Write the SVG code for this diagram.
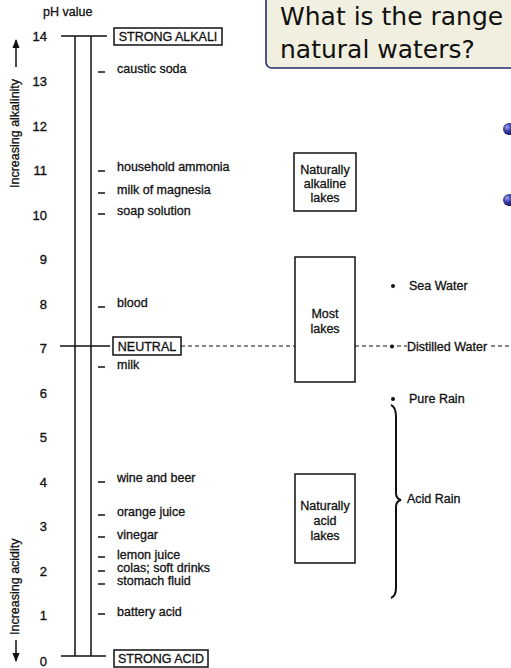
<svg xmlns="http://www.w3.org/2000/svg" width="511" height="668" viewBox="0 0 511 668">
<defs>
<radialGradient id="ball" cx="0.35" cy="0.35" r="0.7">
<stop offset="0" stop-color="#a4a9ee"/>
<stop offset="0.45" stop-color="#3a3fa8"/>
<stop offset="1" stop-color="#14165a"/>
</radialGradient>
<marker id="ah" viewBox="0 0 10 10" refX="9" refY="5" markerWidth="6" markerHeight="6" orient="auto">
<path d="M0,1 L10,5 L0,9 z" fill="#111"/>
</marker>
<style>
.t{font-family:"Liberation Sans",Arial,sans-serif;fill:#111;stroke:#111;stroke-width:0.3px;font-size:12.5px}
.n{font-family:"Liberation Sans",Arial,sans-serif;fill:#111;stroke:#111;stroke-width:0.35px;font-size:13px;text-anchor:end}
.b{font-family:"Liberation Sans",Arial,sans-serif;fill:#111;stroke:#111;stroke-width:0.3px;font-size:12.5px;text-anchor:middle}
.box{fill:none;stroke:#111;stroke-width:1.5}
.ln{stroke:#111;stroke-width:1.5;fill:none}
.tk{stroke:#111;stroke-width:1.5}
.dash{stroke:#111;stroke-width:1.2;stroke-dasharray:4 3;fill:none}
.title{font-family:"DejaVu Sans",sans-serif;fill:#111;font-size:25px}
</style>
</defs>
<rect width="511" height="668" fill="#fff"/>

<g id="title">
<rect x="266" y="-10" width="270" height="78" rx="6" fill="#f1efdf" stroke="#252b6e" stroke-width="1.6"/>
<text class="title" x="280" y="25">What is the range</text>
<text class="title" x="280" y="58">natural waters?</text>
</g>

<g id="bullets">
<circle cx="509" cy="129" r="6" fill="url(#ball)"/>
<circle cx="509" cy="200" r="6" fill="url(#ball)"/>
</g>

<g id="axis-labels">
<text class="t" x="43" y="16" font-size="12">pH value</text>
<text class="t" transform="translate(19,188) rotate(-90)">Increasing alkalinity</text>
<text class="t" font-size="13" transform="translate(19,635) rotate(-90)">Increasing acidity</text>
</g>

<g id="ph-numbers">
<text class="n" x="47" y="41">14</text>
<text class="n" x="47" y="86">13</text>
<text class="n" x="47" y="131">12</text>
<text class="n" x="47" y="175">11</text>
<text class="n" x="47" y="220">10</text>
<text class="n" x="47" y="264">9</text>
<text class="n" x="47" y="309">8</text>
<text class="n" x="47" y="353">7</text>
<text class="n" x="47" y="398">6</text>
<text class="n" x="47" y="442">5</text>
<text class="n" x="47" y="487">4</text>
<text class="n" x="47" y="531">3</text>
<text class="n" x="47" y="576">2</text>
<text class="n" x="47" y="620">1</text>
<text class="n" x="47" y="666">0</text>
</g>

<g id="scale">
<line class="ln" x1="75" y1="36" x2="75" y2="656"/>
<line class="ln" x1="91" y1="36" x2="91" y2="656"/>
<line class="ln" x1="61" y1="36" x2="107" y2="36"/>
<line class="ln" x1="61" y1="656" x2="106" y2="656"/>
<line class="ln" x1="60" y1="346" x2="110" y2="346"/>
</g>

<g id="strong-alkali">
<rect class="box" x="114" y="28" width="108" height="17"/>
<text class="t" x="168" y="41" text-anchor="middle" font-size="12">STRONG ALKALI</text>
</g>
<g id="neutral">
<rect class="box" x="113" y="337" width="68" height="18"/>
<text class="t" x="147" y="351" text-anchor="middle" font-size="12">NEUTRAL</text>
</g>
<g id="strong-acid">
<rect class="box" x="114" y="650" width="94" height="17"/>
<text class="t" x="161" y="663" text-anchor="middle" font-size="12">STRONG ACID</text>
</g>

<g id="substances">
<line class="tk" x1="98" y1="72" x2="105" y2="72"/><text class="t" x="117" y="73">caustic soda</text>
<line class="tk" x1="98" y1="171" x2="105" y2="171"/><text class="t" x="117" y="171">household ammonia</text>
<line class="tk" x1="98" y1="193" x2="105" y2="193"/><text class="t" x="117" y="194">milk of magnesia</text>
<line class="tk" x1="98" y1="214" x2="105" y2="214"/><text class="t" x="117" y="215">soap solution</text>
<line class="tk" x1="98" y1="307" x2="105" y2="307"/><text class="t" x="117" y="307">blood</text>
<line class="tk" x1="98" y1="367" x2="105" y2="367"/><text class="t" x="117" y="369">milk</text>
<line class="tk" x1="98" y1="482" x2="105" y2="482"/><text class="t" x="117" y="482">wine and beer</text>
<line class="tk" x1="98" y1="515" x2="105" y2="515"/><text class="t" x="117" y="516">orange juice</text>
<line class="tk" x1="98" y1="537" x2="105" y2="537"/><text class="t" x="117" y="539">vinegar</text>
<line class="tk" x1="98" y1="557" x2="105" y2="557"/><text class="t" x="117" y="559">lemon juice</text>
<line class="tk" x1="98" y1="571" x2="105" y2="571"/><text class="t" x="117" y="572">colas; soft drinks</text>
<line class="tk" x1="98" y1="584" x2="105" y2="584"/><text class="t" x="117" y="585">stomach fluid</text>
<line class="tk" x1="98" y1="614" x2="105" y2="614"/><text class="t" x="117" y="616">battery acid</text>
</g>

<g id="alkaline-lakes">
<rect class="box" x="294" y="153" width="62" height="58"/>
<text class="b" x="325" y="174">Naturally</text>
<text class="b" x="325" y="188">alkaline</text>
<text class="b" x="325" y="202">lakes</text>
</g>
<g id="most-lakes">
<rect class="box" x="295" y="257" width="60" height="125"/>
<text class="b" x="325" y="318" font-size="13">Most</text>
<text class="b" x="325" y="333" font-size="13">lakes</text>
</g>
<g id="acid-lakes">
<rect class="box" x="295" y="474" width="60" height="89"/>
<text class="b" x="325" y="510">Naturally</text>
<text class="b" x="325" y="525">acid</text>
<text class="b" x="325" y="540">lakes</text>
</g>

<g id="sea-water">
<circle cx="393" cy="286" r="2" fill="#111"/>
<text class="t" x="409" y="290" font-size="12">Sea Water</text>
</g>
<g id="distilled-water">
<circle cx="392" cy="346.5" r="2" fill="#111"/>
<text class="t" x="407" y="351">Distilled Water</text>
</g>
<g id="pure-rain">
<circle cx="393" cy="399" r="2" fill="#111"/>
<text class="t" x="409" y="403" font-size="12">Pure Rain</text>
</g>
<g id="acid-rain">
<text class="t" x="407" y="503" font-size="12">Acid Rain</text>
</g>

<g id="connectors">
<line class="ln" x1="16" y1="67" x2="16" y2="40" marker-end="url(#ah)"/>
<line class="ln" x1="16" y1="640" x2="16" y2="661" marker-end="url(#ah)"/>
<line class="dash" x1="181" y1="346" x2="295" y2="346"/>
<line class="dash" x1="355" y1="346" x2="407" y2="346"/>
<line class="dash" x1="491" y1="346" x2="511" y2="346"/>
<path d="M391,405 Q396,407 396,417 L396,493 Q396,499 401,500 Q396,501 396,507 L396,588 Q396,596 391,598" fill="none" stroke="#111" stroke-width="2"/>
</g>
</svg>
